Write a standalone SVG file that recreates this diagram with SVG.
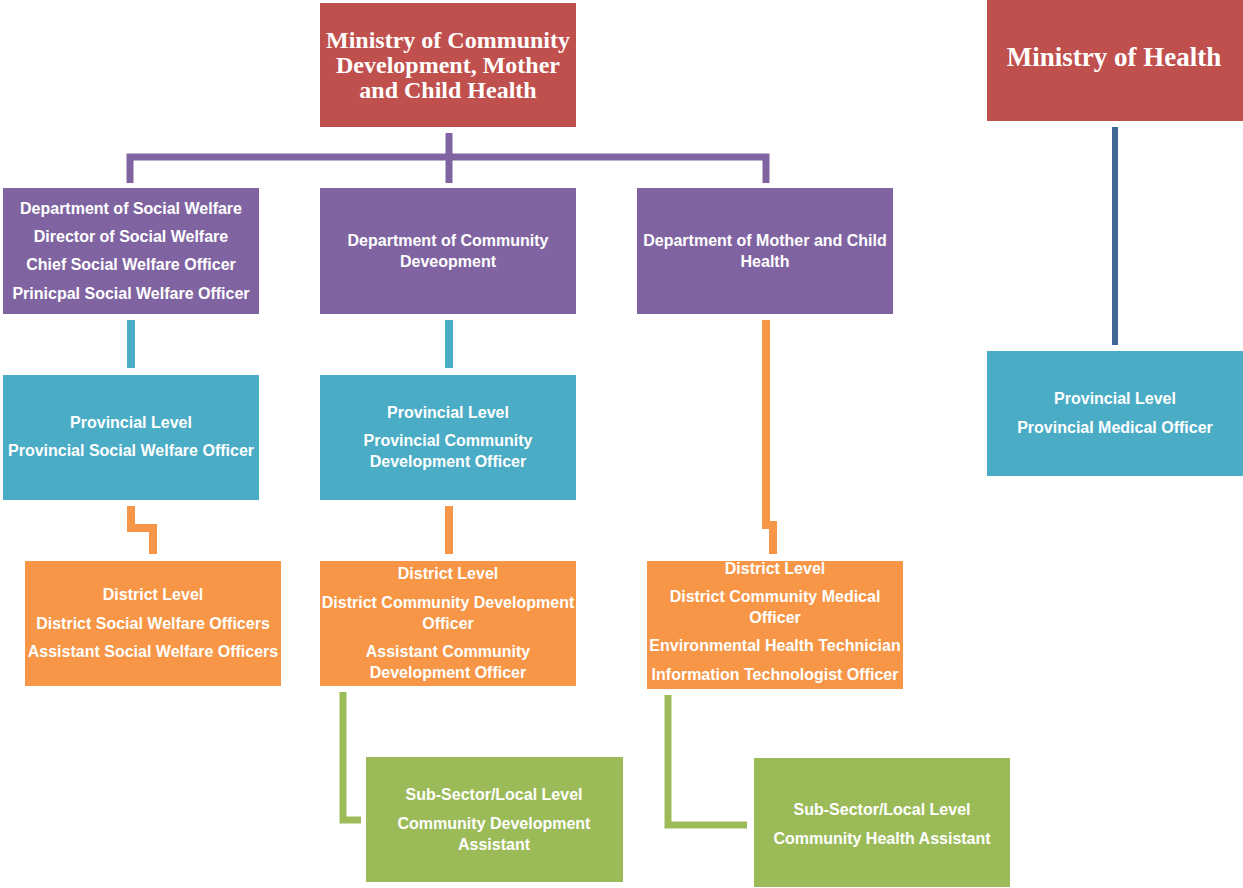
<svg xmlns="http://www.w3.org/2000/svg" width="1243" height="888" viewBox="0 0 1243 888">
<style>
.red{fill:#C0504D}
.pur{fill:#8064A2}
.cyan{fill:#4BACC6}
.org{fill:#F79646}
.grn{fill:#9BBB59}
text{fill:#fff;font-family:"Liberation Sans",Arial,sans-serif;font-weight:bold;font-size:16px;text-anchor:middle;dominant-baseline:central}
.title{font-family:"Liberation Serif","Times New Roman",serif;font-size:24px}
.conn{fill:none;stroke-linejoin:miter}
</style>
<rect width="1243" height="888" fill="#fff"/>
<g id="connectors">
<path class="conn" d="M449,133 V157 M130,183 V157 H766 V183 M449,157 V183" stroke="#8064A2" stroke-width="7"/>
<path class="conn" d="M131,320 V368 M449,320 V368" stroke="#4BACC6" stroke-width="8"/>
<path class="conn" d="M131,506 V528 H153 V554 M449,506 V554 M766,320 V525 H773 V554" stroke="#F79646" stroke-width="8"/>
<path class="conn" d="M343,692 V820 H361 M668,695 V825 H747" stroke="#9BBB59" stroke-width="7"/>
<path class="conn" d="M1115,127 V345" stroke="#3F6797" stroke-width="6"/>
</g>
<g id="ministry-cdmch"><rect class="red" x="320" y="3" width="256" height="124"/>
<text class="title" x="448" y="40">Ministry of Community</text>
<text class="title" x="448" y="65">Development, Mother</text>
<text class="title" x="448" y="90">and Child Health</text></g>
<g id="ministry-health"><rect class="red" x="987" y="0" width="256" height="121"/>
<text class="title" x="1114" y="57" style="font-size:27px">Ministry of Health</text></g>
<g id="dept-sw"><rect class="pur" x="3" y="188" width="256" height="126"/>
<text x="131" y="208">Department of Social Welfare</text>
<text x="131" y="236">Director of Social Welfare</text>
<text x="131" y="264">Chief Social Welfare Officer</text>
<text x="131" y="293">Prinicpal Social Welfare Officer</text></g>
<g id="dept-cd"><rect class="pur" x="320" y="188" width="256" height="126"/>
<text x="448" y="240">Department of Community</text>
<text x="448" y="261">Deveopment</text></g>
<g id="dept-mch"><rect class="pur" x="637" y="188" width="256" height="126"/>
<text x="765" y="240">Department of Mother and Child</text>
<text x="765" y="261">Health</text></g>
<g id="prov-sw"><rect class="cyan" x="3" y="375" width="256" height="125"/>
<text x="131" y="422">Provincial Level</text>
<text x="131" y="450">Provincial Social Welfare Officer</text></g>
<g id="prov-cd"><rect class="cyan" x="320" y="375" width="256" height="125"/>
<text x="448" y="412">Provincial Level</text>
<text x="448" y="440">Provincial Community</text>
<text x="448" y="461">Development Officer</text></g>
<g id="prov-health"><rect class="cyan" x="987" y="351" width="256" height="125"/>
<text x="1115" y="398">Provincial Level</text>
<text x="1115" y="427">Provincial Medical Officer</text></g>
<g id="dist-sw"><rect class="org" x="25" y="561" width="256" height="125"/>
<text x="153" y="594">District Level</text>
<text x="153" y="623">District Social Welfare Officers</text>
<text x="153" y="651">Assistant Social Welfare Officers</text></g>
<g id="dist-cd"><rect class="org" x="320" y="561" width="256" height="125"/>
<text x="448" y="573">District Level</text>
<text x="448" y="602">District Community Development</text>
<text x="448" y="623">Officer</text>
<text x="448" y="651">Assistant Community</text>
<text x="448" y="672">Development Officer</text></g>
<g id="dist-mch"><rect class="org" x="647" y="561" width="256" height="128"/>
<text x="775" y="568">District Level</text>
<text x="775" y="596">District Community Medical</text>
<text x="775" y="617">Officer</text>
<text x="775" y="645">Environmental Health Technician</text>
<text x="775" y="674">Information Technologist Officer</text></g>
<g id="sub-cd"><rect class="grn" x="366" y="757" width="257" height="125"/>
<text x="494" y="794">Sub-Sector/Local Level</text>
<text x="494" y="823">Community Development</text>
<text x="494" y="844">Assistant</text></g>
<g id="sub-mch"><rect class="grn" x="754" y="758" width="256" height="129"/>
<text x="882" y="809">Sub-Sector/Local Level</text>
<text x="882" y="838">Community Health Assistant</text></g>
</svg>
